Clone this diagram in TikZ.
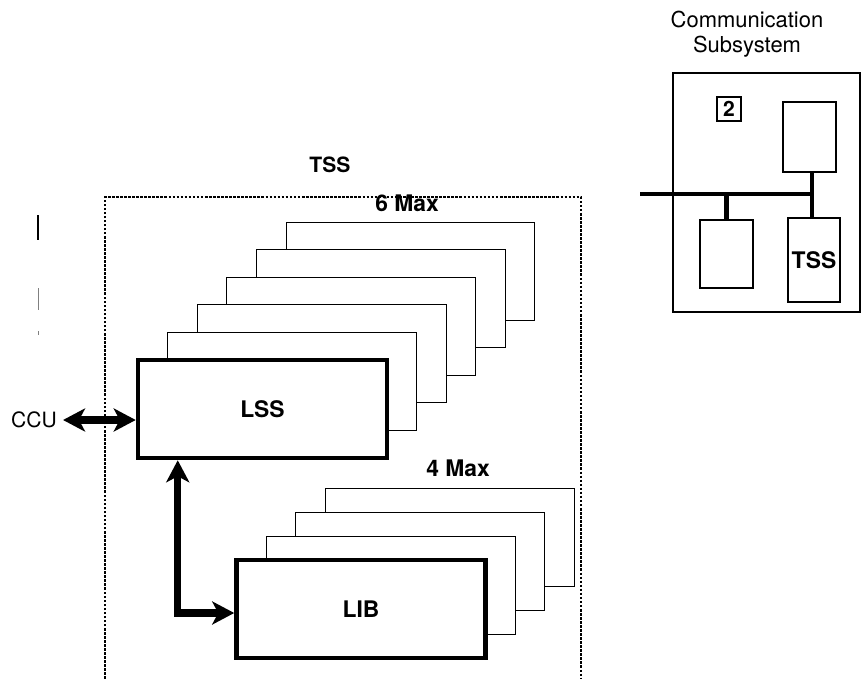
\documentclass[tikz,border=0pt]{standalone}
\usepackage{fontspec}
\setmainfont{TeX Gyre Heros}
\usetikzlibrary{arrows.meta, calc}
\tikzset{
  card/.style={draw, fill=white, line width=0.55pt, minimum width=4.98cm, minimum height=1.96cm, inner sep=0pt},
  frontcard/.style={card, line width=2.6pt, font=\fontsize{13}{15}\selectfont\bfseries},
  fatarrow/.style={line width=4pt, {Stealth[length=0.44cm,width=0.46cm,inset=0.12cm]}-{Stealth[length=0.44cm,width=0.46cm,inset=0.12cm]}},
  unit/.style={draw, line width=0.8pt, inner sep=0pt},
  lbl/.style={font=\fontsize{13}{15}\selectfont\bfseries},
  bus/.style={line width=2.7pt}
}

\begin{document}
\begin{tikzpicture}[x=0.02cm, y=-0.02cm]
\useasboundingbox (0,0) rectangle (862,679);
% marks at the left margin
\draw[line width=0.6pt] (38,215) -- (38,240);
\draw[line width=0.5pt, gray] (38,288) -- (38,310);
\draw[line width=0.5pt, gray] (38,331) -- (38,335);
% TSS frame, open at the bottom
\draw[dash pattern=on 1.5pt off 0.8pt, line width=0.8pt] (105,679) -- (105,197) -- (581,197) -- (581,679);
\node[font=\fontsize{12}{14}\selectfont\bfseries] (tss) at (330,165) {TSS};
% LSS stack (6 Max)
\foreach \i in {5,4,...,1}
  \node[card] (lss\i) at ({262.5+29.6*\i},{409-27.6*\i}) {};
\node[frontcard] (lss) at (262.5,409) {LSS};
\node[lbl] (lssmax) at (407,203) {6 Max};
% LIB stack (4 Max)
\foreach \i in {3,2,1}
  \node[card] (lib\i) at ({361+29.7*\i},{609-24*\i}) {};
\node[frontcard] (lib) at (361,609) {LIB};
\node[lbl] (libmax) at (458,468) {4 Max};
% links
\node[font=\fontsize{12}{14}\selectfont] (ccu) at (34,420) {CCU};
\draw[fatarrow] (ccu.east) -- (ccu.east -| lss.west);
\draw[fatarrow] ($(lss.south west)+(42,0)$) |- ([yshift=-0.08cm]lib.west);
% communication subsystem
\node[font=\fontsize{12.5}{14}\selectfont, align=center] (commtitle) at (747,34) {Communication\\Subsystem};
\node[unit, minimum width=3.74cm, minimum height=4.78cm] (comm) at (766.5,192.5) {};
\node[unit, minimum size=0.48cm, font=\fontsize{12}{14}\selectfont\bfseries] (tag) at (729,109) {2};
\node[unit, minimum width=1.06cm, minimum height=1.4cm] (upper) at (809.5,137) {};
\node[unit, minimum width=1.06cm, minimum height=1.36cm] (lower) at (726.5,254) {};
\node[unit, lbl, minimum width=1.04cm, minimum height=1.68cm] (tssunit) at (814,260) {TSS};
\coordinate (busL) at (640,194);
\coordinate (busR) at (812,194);
\draw[bus] (busL) -- (busR);
\draw[bus] (upper.south -| busR) -- (tssunit.north -| busR);
\draw[bus] (lower.north) -- (lower.north |- busL);
\end{tikzpicture}
\end{document}
